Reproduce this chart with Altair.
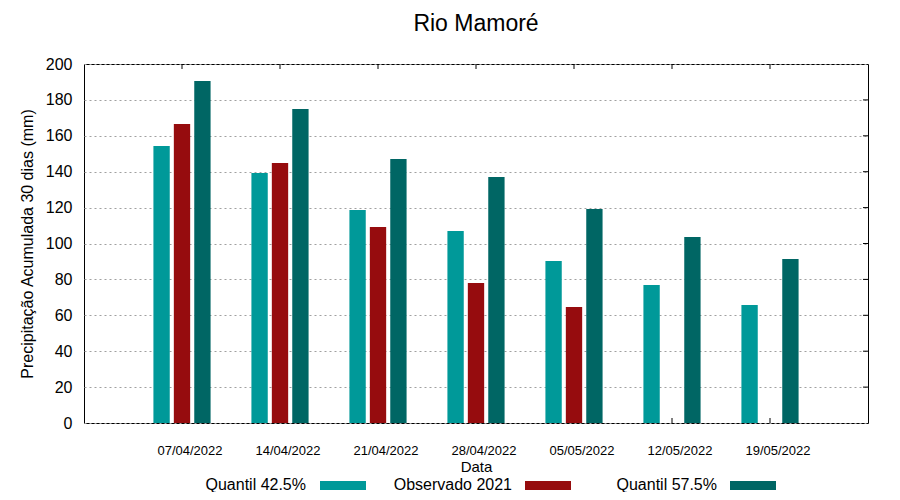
import altair as alt
import pandas as pd

datas = ["07/04/2022", "14/04/2022", "21/04/2022", "28/04/2022",
         "05/05/2022", "12/05/2022", "19/05/2022"]
series = ["Quantil 42.5%", "Observado 2021", "Quantil 57.5%"]
colors = ["#009999", "#960c0e", "#006664"]
q425 = [154.3, 139.3, 118.7, 107.0, 90.3, 76.9, 65.7]
obs2021 = [166.6, 144.8, 109.2, 78.0, 64.6, None, None]
q575 = [190.5, 174.9, 147.1, 137.0, 119.2, 103.6, 91.4]
y_ticks = [0, 20, 40, 60, 80, 100, 120, 140, 160, 180, 200]

W, H = 784, 359
FONT = "Liberation Sans"

rows = []
for s, vals in zip(series, [q425, obs2021, q575]):
    for d, v in zip(datas, vals):
        if v is not None:
            rows.append({"data": d, "serie": s, "valor": v})
df = pd.DataFrame(rows)
df_dates = pd.DataFrame({"data": datas})
df_y = pd.DataFrame({"valor": y_ticks[1:-1]})
df_leg = pd.DataFrame({"serie": series})

xscale = alt.Scale(domain=datas, paddingInner=0, paddingOuter=0.5)
yscale = alt.Scale(domain=[0, 200], nice=False)
color = alt.Color("serie:N", scale=alt.Scale(domain=series, range=colors), legend=None)

x_axis = alt.Axis(title="Data", ticks=False, tickSize=0, domain=False,
                  labelAngle=0, labelAlign="center", labelFontSize=13,
                  labelOffset=8, labelPadding=21, titleFontSize=15,
                  titlePadding=2, titleFontWeight="normal", labelColor="black",
                  titleColor="black", labelFont=FONT, titleFont=FONT,
                  labelOverlap=False, grid=False)
y_axis = alt.Axis(title="Precipitação Acumulada 30 dias (mm)", values=y_ticks,
                  ticks=False, tickSize=0, domain=False, labelFontSize=16,
                  labelPadding=12, titleFontSize=16, titlePadding=10,
                  titleFontWeight="normal", labelColor="black",
                  titleColor="black", labelFont=FONT, titleFont=FONT,
                  labelOverlap=False, labelFlush=False,
                  grid=True, gridColor="#a0a0a0", gridDash=[2, 3], gridWidth=1)

X = lambda: alt.X("data:N", sort=datas, scale=xscale, axis=x_axis)
Y = lambda: alt.Y("valor:Q", scale=yscale, axis=y_axis)

bars = alt.Chart(df).mark_bar().encode(
    x=X(),
    xOffset=alt.XOffset("serie:N", sort=series,
                        scale=alt.Scale(domain=series, paddingInner=0.2, paddingOuter=1)),
    y=Y(),
    color=color,
)

top_ticks = alt.Chart(df_dates).mark_rule(color="black", strokeWidth=1).encode(
    x=X(), y=alt.value(0), y2=alt.value(5))
bot_ticks = alt.Chart(df_dates).mark_rule(color="black", strokeWidth=1).encode(
    x=X(), y=alt.value(H), y2=alt.value(H - 5))
right_ticks = alt.Chart(df_y).mark_rule(color="black", strokeWidth=1).encode(
    y=Y(), x=alt.value(W - 5), x2=alt.value(W))

# legend (text then colour sample, gnuplot style)
leg_text_x = [222, 428, 633]
leg_sym_x = [236, 441, 646]
leg_layers = []
for s, c, tx, sx in zip(series, colors, leg_text_x, leg_sym_x):
    one = alt.Chart(df_leg).transform_filter(alt.datum.serie == s)
    leg_layers.append(one.mark_text(align="right", baseline="alphabetic", fontSize=16,
                                    font=FONT, color="black").encode(
        x=alt.value(tx), y=alt.value(H + 67), text="serie:N"))
    leg_layers.append(one.mark_rect(color=c).encode(
        x=alt.value(sx), x2=alt.value(sx + 46),
        y=alt.value(H + 58), y2=alt.value(H + 67)))

chart = alt.layer(top_ticks, bot_ticks, bars, right_ticks, *leg_layers).properties(
    width=W, height=H,
    background="white",
    title=alt.TitleParams("Rio Mamoré", fontSize=23, font=FONT, fontWeight="normal",
                          anchor="middle", color="black", offset=20),
    autosize=alt.AutoSizeParams(type="none"),
    padding={"left": 76, "top": 56, "right": 24, "bottom": 69},
).configure_view(stroke="black", strokeWidth=1)

chart.save("out.html", embed_options={"renderer": "svg", "actions": False})
